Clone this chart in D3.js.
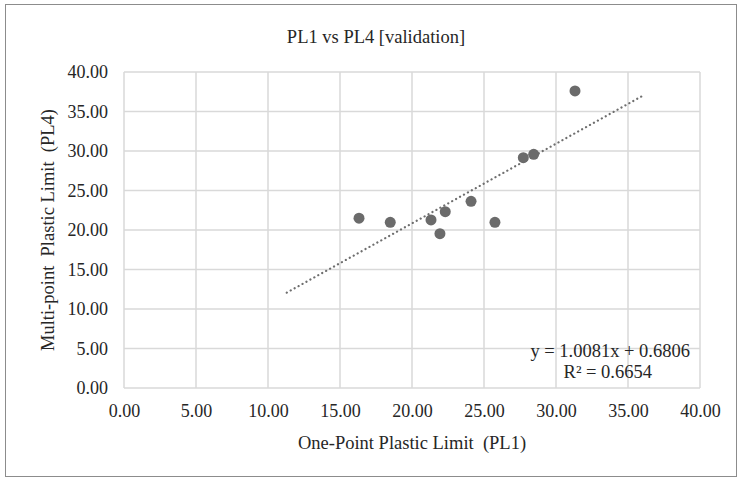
<!DOCTYPE html>
<html>
<head>
<meta charset="utf-8">
<script src="https://cdn.jsdelivr.net/npm/d3@7"></script>
<style>
  body { margin: 0; background: #fff; }
  text { font-family: "Liberation Serif", "Times New Roman", serif; fill: #262626; white-space: pre; }
</style>
</head>
<body>
<div id="chart"></div>
<script>
// Data
const pl1 = [16.32, 18.49, 21.32, 22.31, 21.94, 24.10, 25.76, 27.73, 28.45, 31.32];
const pl4 = [21.50, 20.97, 21.27, 22.32, 19.53, 23.63, 20.97, 29.15, 29.58, 37.60];
const xTicks = [0, 5, 10, 15, 20, 25, 30, 35, 40];
const yTicks = [0, 5, 10, 15, 20, 25, 30, 35, 40];
const slope = 1.0081;
const intercept = 0.6806;
const rSquared = 0.6654;
const trendRange = [11.3, 36.1];

const W = 740, H = 478;
const margin = {top: 72, right: 40, bottom: 90, left: 124};
const width = 700 - margin.left;
const height = 388 - margin.top;

const svg = d3.select("#chart").append("svg")
    .attr("width", W)
    .attr("height", H);

// outer chart border
svg.append("rect")
    .attr("x", 5.5).attr("y", 4.5)
    .attr("width", 731).attr("height", 472)
    .attr("fill", "none")
    .attr("stroke", "#8c8c8c")
    .attr("stroke-width", 1);

const g = svg.append("g")
    .attr("transform", `translate(${margin.left},${margin.top})`);

const x = d3.scaleLinear().domain([0, 40]).range([0, width]);
const y = d3.scaleLinear().domain([0, 40]).range([height, 0]);

// gridlines
g.append("g")
    .selectAll("line")
    .data(xTicks)
    .join("line")
    .attr("x1", d => x(d)).attr("x2", d => x(d))
    .attr("y1", 0).attr("y2", height)
    .attr("stroke", "#d9d9d9")
    .attr("stroke-width", 1.5);

g.append("g")
    .selectAll("line")
    .data(yTicks)
    .join("line")
    .attr("x1", 0).attr("x2", width)
    .attr("y1", d => y(d)).attr("y2", d => y(d))
    .attr("stroke", "#d9d9d9")
    .attr("stroke-width", 1.5);

// axes (labels only)
const xAxis = g.append("g")
    .attr("transform", `translate(0,${height})`)
    .call(d3.axisBottom(x).tickValues(xTicks).tickFormat(d3.format(".2f")).tickSize(0).tickPadding(16));
xAxis.select(".domain").remove();
xAxis.selectAll("text").attr("font-size", 18).attr("font-family", null);

const yAxis = g.append("g")
    .call(d3.axisLeft(y).tickValues(yTicks).tickFormat(d3.format(".2f")).tickSize(0).tickPadding(16));
yAxis.select(".domain").remove();
yAxis.selectAll("text").attr("font-size", 18).attr("font-family", null);

// trendline
g.append("line")
    .attr("x1", x(trendRange[0]))
    .attr("y1", y(slope * trendRange[0] + intercept))
    .attr("x2", x(trendRange[1]))
    .attr("y2", y(slope * trendRange[1] + intercept))
    .attr("stroke", "#6e6e6e")
    .attr("stroke-width", 2.2)
    .attr("stroke-linecap", "round")
    .attr("stroke-dasharray", "0.1 4.4");

// points
g.append("g")
    .selectAll("circle")
    .data(pl1.map((d, i) => [d, pl4[i]]))
    .join("circle")
    .attr("cx", d => x(d[0]))
    .attr("cy", d => y(d[1]))
    .attr("r", 5.5)
    .attr("fill", "#6b6b6b");

// equation
svg.append("text")
    .attr("x", 690)
    .attr("y", 357)
    .attr("text-anchor", "end")
    .attr("font-size", 18.5)
    .text(`y = ${slope.toFixed(4)}x + ${intercept.toFixed(4)}`);
svg.append("text")
    .attr("x", 652)
    .attr("y", 378)
    .attr("text-anchor", "end")
    .attr("font-size", 18.5)
    .text(`R² = ${rSquared.toFixed(4)}`);

// title
svg.append("text")
    .attr("x", 376)
    .attr("y", 43)
    .attr("text-anchor", "middle")
    .attr("font-size", 18.5)
    .text("PL1 vs PL4 [validation]");

// axis titles
svg.append("text")
    .attr("x", margin.left + width / 2)
    .attr("y", 449)
    .attr("text-anchor", "middle")
    .attr("font-size", 18.5)
    .text("One-Point Plastic Limit  (PL1)");

svg.append("text")
    .attr("transform", `translate(54,${margin.top + height / 2}) rotate(-90)`)
    .attr("text-anchor", "middle")
    .attr("font-size", 18.5)
    .text("Multi-point  Plastic Limit  (PL4)");
</script>
</body>
</html>
